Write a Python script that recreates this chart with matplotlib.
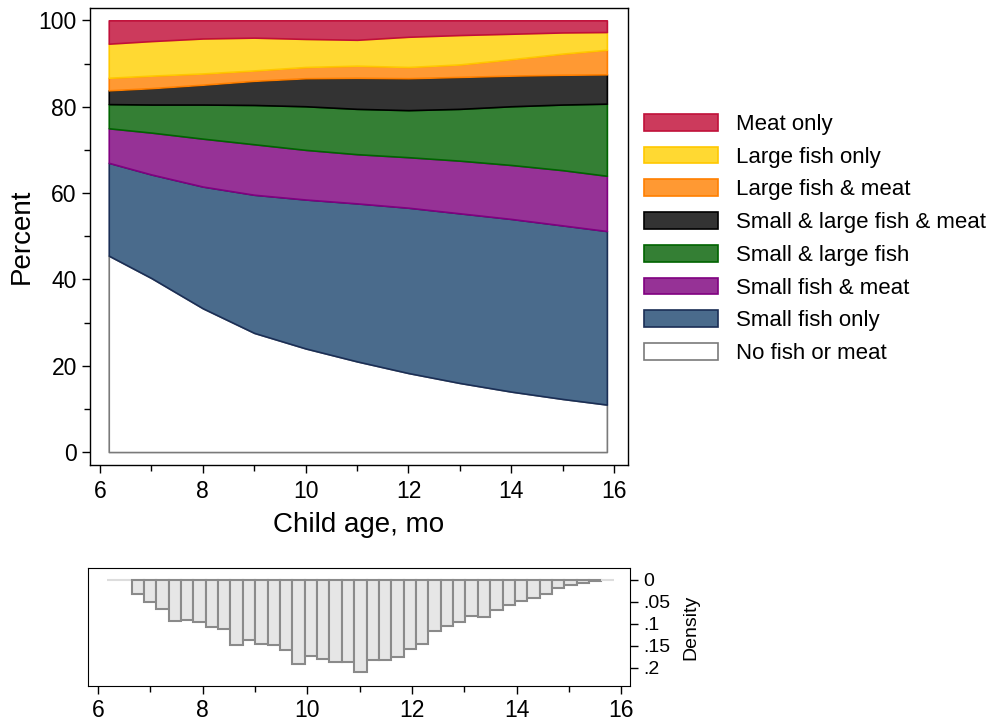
import numpy as np
import matplotlib
matplotlib.use('Agg')
import matplotlib.pyplot as plt
from matplotlib.patches import Patch

plt.rcParams['font.family'] = ['Liberation Sans', 'DejaVu Sans']

age = [6.17, 7, 8, 9, 10, 11, 12, 13, 14, 15, 15.86]

# Percent of children per category, bottom of the stack first
no_fish = [45.5, 40.3, 33.3, 27.6, 24.0, 21.0, 18.3, 16.0, 14.0, 12.3, 11.0]
small_only = [21.5, 24.0, 28.2, 32.0, 34.5, 36.6, 38.3, 39.3, 40.0, 40.2, 40.2]
small_meat = [8.0, 9.7, 11.1, 11.7, 11.5, 11.4, 11.7, 12.2, 12.5, 12.8, 12.8]
small_large = [5.6, 6.5, 7.9, 9.1, 10.1, 10.5, 10.9, 12.0, 13.6, 15.2, 16.7]
small_large_meat = [3.2, 3.8, 4.6, 5.6, 6.5, 7.2, 7.4, 7.4, 7.1, 6.9, 6.8]
large_meat = [2.9, 2.9, 2.6, 2.4, 2.6, 2.8, 2.6, 2.9, 3.8, 4.9, 5.7]
large_only = [7.9, 8.0, 8.1, 7.6, 6.5, 6.0, 7.0, 6.8, 5.9, 4.9, 4.1]
meat_only = [5.4, 4.8, 4.2, 4.0, 4.3, 4.5, 3.8, 3.4, 3.1, 2.8, 2.7]

labels = ['No fish or meat', 'Small fish only', 'Small fish & meat',
          'Small & large fish', 'Small & large fish & meat',
          'Large fish & meat', 'Large fish only', 'Meat only']
series = [no_fish, small_only, small_meat, small_large, small_large_meat,
          large_meat, large_only, meat_only]
fills = ['#ffffff', '#4a6b8c', '#963296', '#347f34', '#333333',
         '#ff9933', '#ffd932', '#cc3a5c']
edges = ['#7a7a7a', '#1a2e55', '#800080', '#006400', '#000000',
         '#ff7f00', '#ffc800', '#c0103a']

# Age distribution (density) in 41 equal bins
hist_start = 6.17
hist_end = 15.86
density = [0, 0, 0.031, 0.051, 0.066, 0.093, 0.091, 0.095, 0.106, 0.112,
           0.148, 0.137, 0.145, 0.149, 0.160, 0.192, 0.174, 0.180, 0.186,
           0.187, 0.210, 0.183, 0.182, 0.175, 0.158, 0.146, 0.117, 0.105,
           0.095, 0.083, 0.085, 0.069, 0.058, 0.048, 0.042, 0.032, 0.018,
           0.012, 0.008, 0.003, 0]

fig = plt.figure(figsize=(9.9, 7.25), dpi=100)

# main stacked area
ax = fig.add_axes([0.0909, 0.3586, 0.5434, 0.630])
x = np.array(age)
base = np.zeros(len(x))
for vals, fc, ec in zip(series, fills, edges):
    top = base + np.array(vals)
    ax.fill_between(x, base, top, facecolor=fc, edgecolor=ec, linewidth=1.2)
    base = top

ax.set_xlim(5.805, 16.27)
ax.set_ylim(-3.0, 102.8)
ax.set_xticks(range(6, 17, 2))
ax.set_xticks(range(7, 16, 2), minor=True)
ax.set_yticks(range(0, 101, 20))
ax.set_yticks(range(10, 100, 20), minor=True)
ax.tick_params(axis='both', which='major', labelsize=16.5, length=6, width=1)
ax.tick_params(axis='x', which='major', pad=5)
ax.tick_params(axis='both', which='minor', length=4, width=1)
ax.set_xlabel('Child age, mo', fontsize=20, labelpad=6)
ax.set_ylabel('Percent', fontsize=20, labelpad=3)
for sp in ax.spines.values():
    sp.set_linewidth(1.0)

handles = [Patch(facecolor=fc, edgecolor=ec, linewidth=1.2)
           for fc, ec in zip(fills, edges)]
fig.legend(handles[::-1], labels[::-1], loc='upper left',
           bbox_to_anchor=(0.651, 0.843), frameon=False, fontsize=16,
           handlelength=3.3, handleheight=0.78, handletextpad=0.8,
           labelspacing=0.525, borderpad=0, borderaxespad=0)

# histogram of ages below
ax2 = fig.add_axes([0.0889, 0.0538, 0.5475, 0.1628])
nb = len(density)
width = (hist_end - hist_start) / nb
lefts = hist_start + width * np.arange(nb)
ax2.hlines(0, hist_start, hist_end, color='#dddddd', linewidth=1.2, zorder=1)
bar_edges = ['#dddddd' if d == 0 else '#8a8a8a' for d in density]
ax2.bar(lefts, density, width=width, align='edge', color='#e6e6e6',
        edgecolor=bar_edges, linewidth=1.5, zorder=2)
ax2.set_xlim(5.81, 16.17)
ax2.set_ylim(0.241, -0.027)
ax2.yaxis.tick_right()
ax2.yaxis.set_label_position('right')
ax2.set_yticks([0, 0.05, 0.1, 0.15, 0.2])
ax2.set_yticklabels(['0', '.05', '.1', '.15', '.2'])
ax2.set_xticks(range(6, 17, 2))
ax2.set_xticks(range(7, 16, 2), minor=True)
ax2.tick_params(axis='x', which='major', labelsize=16.5, length=6, width=1)
ax2.tick_params(axis='x', which='minor', length=4, width=1)
ax2.tick_params(axis='y', labelsize=14, length=6, width=1)
ax2.set_ylabel('Density', fontsize=14, labelpad=9)

fig.savefig('out.png', dpi=100)
